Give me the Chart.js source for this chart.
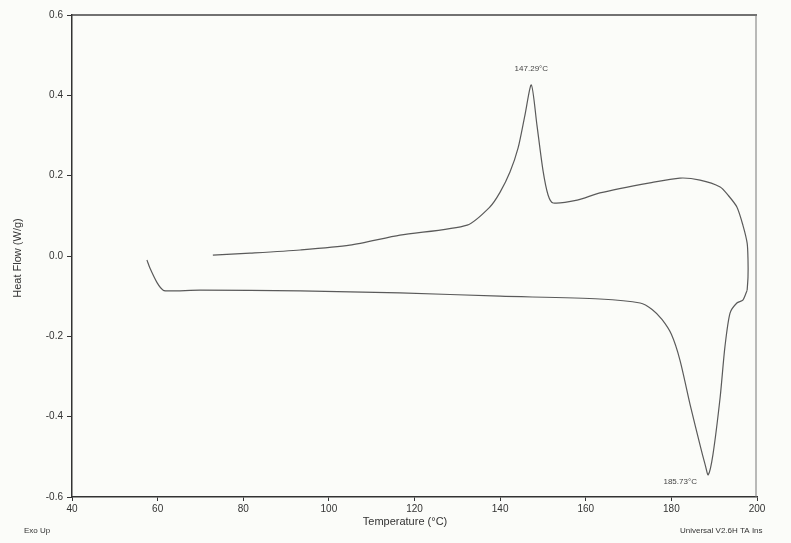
<!DOCTYPE html>
<html>
<head>
<meta charset="utf-8">
<script src="https://cdn.jsdelivr.net/npm/chart.js@4.4.0/dist/chart.umd.min.js"></script>
<style>
  html, body { margin: 0; padding: 0; background: #fbfcf9; }
  #wrap { width: 791px; height: 543px; }
</style>
</head>
<body>
<div id="wrap"><canvas id="dsc"></canvas></div>
<script>
// heating scan (lower curve)
const heatTemp = [57.5, 58.2, 59.9, 61.3, 62.9, 69.9, 93.3, 116.6, 140.0, 163.3, 172.7, 175.5, 177.8, 180.0, 182.0, 184.4, 186.7, 187.9, 188.6, 189.7, 191.4, 192.5, 193.7, 195.3, 196.7, 197.7];
const heatFlow = [-0.01, -0.03, -0.067, -0.085, -0.087, -0.085, -0.087, -0.092, -0.1, -0.107, -0.117, -0.133, -0.158, -0.195, -0.259, -0.371, -0.471, -0.52, -0.545, -0.495, -0.351, -0.227, -0.142, -0.117, -0.11, -0.085];

// cooling scan (upper curve)
const coolTemp = [197.7, 197.9, 197.9, 197.7, 196.7, 195.3, 193.2, 191.4, 186.7, 182.0, 175.0, 163.3, 158.0, 152.4, 151.2, 150.0, 148.6, 147.29, 145.8, 144.2, 142.3, 140.0, 137.6, 132.3, 116.6, 104.9, 93.3, 81.6, 72.9];
const coolFlow = [-0.085, -0.052, -0.01, 0.032, 0.077, 0.122, 0.152, 0.172, 0.189, 0.194, 0.182, 0.157, 0.139, 0.132, 0.152, 0.214, 0.326, 0.426, 0.351, 0.269, 0.209, 0.159, 0.122, 0.077, 0.052, 0.027, 0.015, 0.007, 0.002];

const xTicks = [40, 60, 80, 100, 120, 140, 160, 180, 200];
const yTicks = [-0.6, -0.4, -0.2, 0.0, 0.2, 0.4, 0.6];

const peakLabel = { t: 147.29, v: 0.426, text: '147.29°C' };
const troughLabel = { t: 188.6, v: -0.545, text: '185.73°C' };

const ink = '#333';
const curve = '#5a5a5a';

function pts(xs, ys) {
  return xs.map((x, i) => ({ x: x, y: ys[i] }));
}

// frame, annotations and loose texts
const extras = {
  id: 'extras',
  afterDraw(chart) {
    const ctx = chart.ctx;
    const a = chart.chartArea;
    const xs = chart.scales.x, ys = chart.scales.y;
    ctx.save();
    ctx.strokeStyle = '#444';
    ctx.lineWidth = 1.5;
    ctx.beginPath();
    ctx.moveTo(a.left, a.top);
    ctx.lineTo(a.right, a.top);
    ctx.stroke();
    ctx.strokeStyle = '#777';
    ctx.lineWidth = 1;
    ctx.beginPath();
    ctx.moveTo(a.right - 1, a.top);
    ctx.lineTo(a.right - 1, a.bottom);
    ctx.stroke();

    ctx.fillStyle = '#444';
    ctx.font = '8px "Liberation Sans", Arial, sans-serif';
    ctx.textAlign = 'center';
    ctx.textBaseline = 'middle';
    ctx.fillText(peakLabel.text, xs.getPixelForValue(peakLabel.t), ys.getPixelForValue(peakLabel.v) - 16);
    ctx.fillText(troughLabel.text, xs.getPixelForValue(troughLabel.t) - 28, ys.getPixelForValue(troughLabel.v) + 7);

    ctx.fillStyle = ink;
    ctx.font = '11px "Liberation Sans", Arial, sans-serif';
    ctx.fillText('Temperature (°C)', 405, 522);
    ctx.save();
    ctx.translate(18, 258);
    ctx.rotate(-Math.PI / 2);
    ctx.fillText('Heat Flow (W/g)', 0, 0);
    ctx.restore();

    ctx.font = '8px "Liberation Sans", Arial, sans-serif';
    ctx.textAlign = 'left';
    ctx.fillText('Exo Up', 24, 531);
    ctx.fillText('Universal V2.6H TA Ins', 680, 531);
    ctx.restore();
  }
};

new Chart(document.getElementById('dsc'), {
  type: 'scatter',
  data: {
    datasets: [
      { data: pts(heatTemp, heatFlow), showLine: true, borderColor: curve, borderWidth: 1.2, pointRadius: 0, tension: 0.25 },
      { data: pts(coolTemp, coolFlow), showLine: true, borderColor: curve, borderWidth: 1.2, pointRadius: 0, tension: 0.25 }
    ]
  },
  options: {
    responsive: true,
    maintainAspectRatio: false,
    animation: false,
    layout: { padding: { top: 15, right: 34, left: 0, bottom: 0 } },
    plugins: { legend: { display: false }, tooltip: { enabled: false } },
    scales: {
      x: {
        type: 'linear',
        min: 40,
        max: 200,
        afterBuildTicks: (s) => { s.ticks = xTicks.map(v => ({ value: v })); },
        afterFit: (s) => { s.height = 46; },
        grid: { drawOnChartArea: false, drawTicks: true, tickLength: 4, color: ink },
        border: { display: true, color: ink, width: 1.5 },
        ticks: { color: ink, padding: 2, font: { size: 10, family: '"Liberation Sans", Arial, sans-serif' } }
      },
      y: {
        type: 'linear',
        min: -0.6,
        max: 0.6,
        afterBuildTicks: (s) => { s.ticks = yTicks.map(v => ({ value: v })); },
        afterFit: (s) => { s.width = 72; },
        grid: { drawOnChartArea: false, drawTicks: true, tickLength: 5, color: ink },
        border: { display: true, color: ink, width: 1.5 },
        ticks: {
          color: ink,
          padding: 4,
          font: { size: 10, family: '"Liberation Sans", Arial, sans-serif' },
          callback: (v) => (Math.abs(v) < 1e-9 ? 0 : v).toFixed(1)
        }
      }
    }
  },
  plugins: [extras]
});
</script>
</body>
</html>
